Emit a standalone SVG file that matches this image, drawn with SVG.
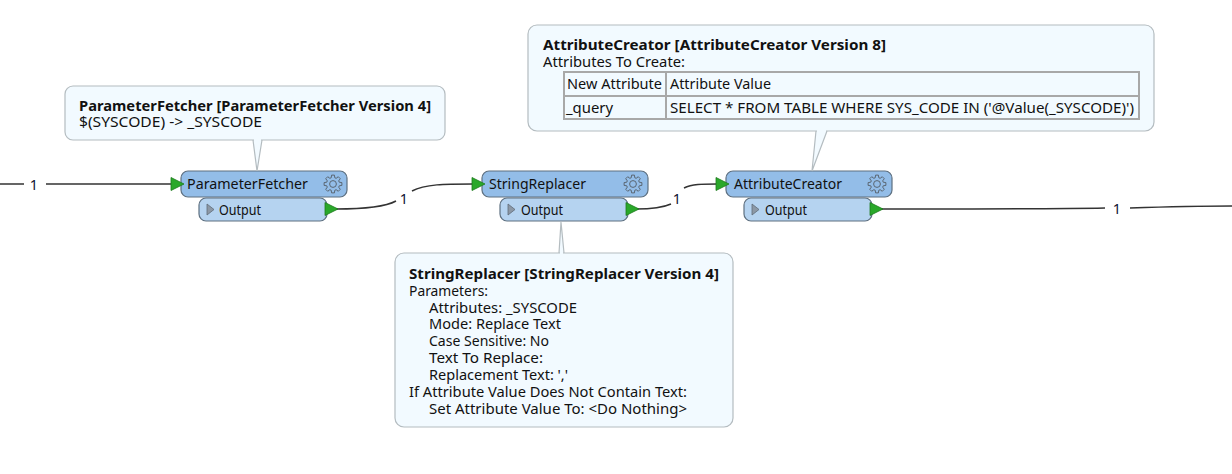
<svg xmlns="http://www.w3.org/2000/svg" width="1232" height="474" viewBox="0 0 1232 474">
<style>
text{font-family:"Noto Sans","Open Sans","DejaVu Sans",sans-serif;font-size:13.5px;fill:#111}
.b{font-weight:700}
.call{fill:#f2faff;stroke:#b4bcc0;stroke-width:1.2}
.tail{fill:#f2faff;stroke:#b4bcc0;stroke-width:1.2}
.head{fill:#93bde8;stroke:#5e7080;stroke-width:1.2}
.out{fill:#b5d3f0;stroke:#5e7080;stroke-width:1.2}
.port{fill:#2aa82a;stroke:#1c7a1c;stroke-width:.8}
.exp{fill:#8c98a6;stroke:#606c78;stroke-width:.8}
.gear{fill:none;stroke:#5a6672;stroke-width:1;stroke-linejoin:round}
.conn{fill:none;stroke:#333;stroke-width:1.5}
.lab{font-size:14.500px;fill:#0c1030;text-anchor:middle}
.grid{fill:none;stroke:#a8a8a8;stroke-width:2}
</style>
<defs>
<g id="g"><circle r="3.4" class="gear"/><path class="gear" d="M6.25-1.79L8.89-1.41V1.41L6.25 1.79L5.69 3.15L7.28 5.29L5.29 7.28L3.15 5.69L1.79 6.25L1.41 8.89H-1.41L-1.79 6.25L-3.15 5.69L-5.29 7.28L-7.28 5.29L-5.69 3.15L-6.25 1.79L-8.89 1.41V-1.41L-6.25-1.79L-5.69-3.15L-7.28-5.29L-5.29-7.28L-3.15-5.69L-1.79-6.25L-1.41-8.89H1.41L1.79-6.25L3.15-5.69L5.29-7.28L7.28-5.29L5.69-3.15Z"/></g>
</defs>
<g id="connectors">
<path class="conn" d="M0 184H24M46 184H173"/>
<path class="conn" d="M336 209C365 209 385 207 396 201M412 191C425 184 445 184 473 184"/>
<path class="conn" d="M636 209C650 209 662 208 671 204M684 188C692 184 702 184 717 184"/>
<path class="conn" d="M880 209C960 209 1050 209 1105 208M1130 208C1160 207 1200 206 1232 206"/>
<text class="lab" x="34" y="190">1</text>
<text class="lab" x="404" y="204">1</text>
<text class="lab" x="677" y="204">1</text>
<text class="lab" x="1117" y="214">1</text>
</g>
<g id="ParameterFetcher">
<rect class="out" x="199" y="198" width="128" height="23" rx="7"/>
<rect class="head" x="181" y="171" width="166" height="26" rx="7"/>
<path class="port" d="M171 177.500L184 184L171 190.500Z"/>
<path class="port" d="M325 202.500L338 209L325 215.500Z"/>
<path class="exp" d="M207 204L214 209.500L207 215Z"/>
<text x="187" y="189" textLength="121" lengthAdjust="spacingAndGlyphs" style="font-size:14.500px">ParameterFetcher</text>
<text x="219" y="215" textLength="42" lengthAdjust="spacingAndGlyphs">Output</text>
<use href="#g" x="333" y="184"/>
</g>
<g id="StringReplacer">
<rect class="out" x="500" y="198" width="128" height="23" rx="7"/>
<rect class="head" x="482" y="171" width="166" height="26" rx="7"/>
<path class="port" d="M472 177.500L485 184L472 190.500Z"/>
<path class="port" d="M626 202.500L639 209L626 215.500Z"/>
<path class="exp" d="M508 204L515 209.500L508 215Z"/>
<text x="489" y="189" textLength="97" lengthAdjust="spacingAndGlyphs" style="font-size:14.500px">StringReplacer</text>
<text x="521" y="215" textLength="42" lengthAdjust="spacingAndGlyphs">Output</text>
<use href="#g" x="633" y="184"/>
</g>
<g id="AttributeCreator">
<rect class="out" x="744" y="198" width="128" height="23" rx="7"/>
<rect class="head" x="726" y="171" width="166" height="26" rx="7"/>
<path class="port" d="M716 177.500L729 184L716 190.500Z"/>
<path class="port" d="M870 202.500L883 209L870 215.500Z"/>
<path class="exp" d="M752 204L759 209.500L752 215Z"/>
<text x="734" y="189" textLength="108" lengthAdjust="spacingAndGlyphs" style="font-size:14.500px">AttributeCreator</text>
<text x="765" y="215" textLength="42" lengthAdjust="spacingAndGlyphs">Output</text>
<use href="#g" x="877" y="184"/>
</g>
<g id="callout-parameterfetcher">
<path class="tail" d="M253 140L257 171L262 140"/>
<rect class="call" x="65" y="86" width="380" height="54" rx="8"/>
<path d="M254 140H261" stroke="#f2faff" stroke-width="2"/>
<text class="b" x="79" y="111" textLength="352" lengthAdjust="spacingAndGlyphs">ParameterFetcher [ParameterFetcher Version 4]</text>
<text x="79" y="127" textLength="183" lengthAdjust="spacingAndGlyphs">$(SYSCODE) -&gt; _SYSCODE</text>
</g>
<g id="callout-attributecreator">
<path class="tail" d="M816 131L812 171L827 131"/>
<rect class="call" x="528" y="25" width="626" height="106" rx="9"/>
<path d="M817 131H826" stroke="#f2faff" stroke-width="2"/>
<text class="b" x="543" y="50" textLength="343" lengthAdjust="spacingAndGlyphs">AttributeCreator [AttributeCreator Version 8]</text>
<text x="543" y="67" textLength="142" lengthAdjust="spacingAndGlyphs">Attributes To Create:</text>
<path class="grid" d="M564 72H1139V119H564ZM564 96H1139M666 72V119"/>
<text x="567" y="89" textLength="95" lengthAdjust="spacingAndGlyphs">New Attribute</text>
<text x="670" y="89" textLength="101" lengthAdjust="spacingAndGlyphs">Attribute Value</text>
<text x="566" y="113" textLength="47" lengthAdjust="spacingAndGlyphs">_query</text>
<text x="670" y="113" textLength="464" lengthAdjust="spacingAndGlyphs">SELECT * FROM TABLE WHERE SYS_CODE IN ('@Value(_SYSCODE)')</text>
</g>
<g id="callout-stringreplacer">
<path class="tail" d="M559 253L561 222L564 253"/>
<rect class="call" x="395" y="253" width="338" height="174" rx="9"/>
<path d="M560 253H563" stroke="#f2faff" stroke-width="2"/>
<text class="b" x="409" y="279" textLength="310" lengthAdjust="spacingAndGlyphs">StringReplacer [StringReplacer Version 4]</text>
<text x="409" y="296" textLength="79" lengthAdjust="spacingAndGlyphs">Parameters:</text>
<text x="429" y="313" textLength="148" lengthAdjust="spacingAndGlyphs">Attributes: _SYSCODE</text>
<text x="429" y="329" textLength="132" lengthAdjust="spacingAndGlyphs">Mode: Replace Text</text>
<text x="429" y="346" textLength="120" lengthAdjust="spacingAndGlyphs">Case Sensitive: No</text>
<text x="429" y="363" textLength="114" lengthAdjust="spacingAndGlyphs">Text To Replace:</text>
<text x="429" y="380" textLength="139" lengthAdjust="spacingAndGlyphs">Replacement Text: ','</text>
<text x="409" y="397" textLength="278" lengthAdjust="spacingAndGlyphs">If Attribute Value Does Not Contain Text:</text>
<text x="429" y="414" textLength="258" lengthAdjust="spacingAndGlyphs">Set Attribute Value To: &lt;Do Nothing&gt;</text>
</g>
</svg>
